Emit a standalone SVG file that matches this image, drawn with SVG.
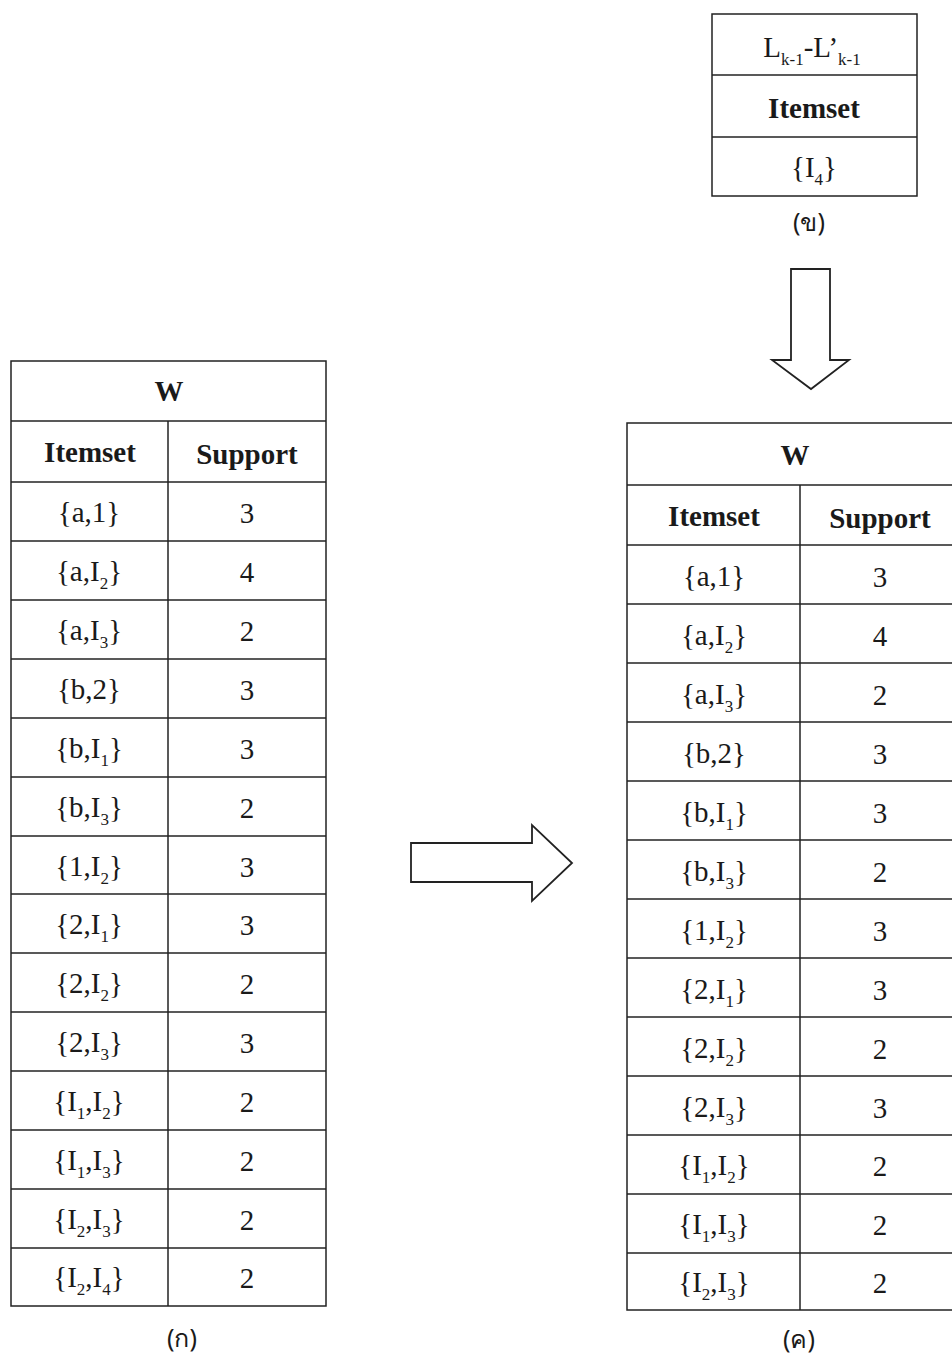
<svg xmlns="http://www.w3.org/2000/svg" width="952" height="1358" viewBox="0 0 952 1358">
<style>
.t{font-family:"Liberation Serif","Times New Roman",serif;font-size:29px;fill:#1a1a1a;text-anchor:middle}
.b{font-weight:bold}
.s{font-size:17px}
.th{font-family:"Noto Sans","DejaVu Sans",sans-serif;font-size:25px;fill:#1a1a1a;text-anchor:middle}
.ln{stroke:#222;stroke-width:1.5;fill:none}
.ar{stroke:#222;stroke-width:1.8;fill:#fff;stroke-linejoin:miter}
</style>
<rect width="952" height="1358" fill="#fff"/>

<g id="box-b">
<rect class="ln" x="712" y="14" width="205" height="182"/>
<line class="ln" x1="712" y1="75" x2="917" y2="75"/>
<line class="ln" x1="712" y1="137" x2="917" y2="137"/>
<text class="t" x="812" y="57">L<tspan class="s" dy="8">k-1</tspan><tspan dy="-8">-L’</tspan><tspan class="s" dy="8">k-1</tspan></text>
<text class="t b" x="814" y="118">Itemset</text>
<text class="t" x="814" y="177">{I<tspan class="s" dy="8">4</tspan><tspan dy="-8">}</tspan></text>
<text class="th" x="809" y="231">(ข)</text>
</g>

<g id="table-a">
<rect class="ln" x="11" y="361" width="315" height="945"/>
<line class="ln" x1="11" y1="421" x2="326" y2="421"/>
<line class="ln" x1="168" y1="421" x2="168" y2="1306"/>
<line class="ln" x1="11" y1="482" x2="326" y2="482"/>
<line class="ln" x1="11" y1="541" x2="326" y2="541"/>
<line class="ln" x1="11" y1="600" x2="326" y2="600"/>
<line class="ln" x1="11" y1="659" x2="326" y2="659"/>
<line class="ln" x1="11" y1="718" x2="326" y2="718"/>
<line class="ln" x1="11" y1="777" x2="326" y2="777"/>
<line class="ln" x1="11" y1="836" x2="326" y2="836"/>
<line class="ln" x1="11" y1="894" x2="326" y2="894"/>
<line class="ln" x1="11" y1="953" x2="326" y2="953"/>
<line class="ln" x1="11" y1="1012" x2="326" y2="1012"/>
<line class="ln" x1="11" y1="1071" x2="326" y2="1071"/>
<line class="ln" x1="11" y1="1130" x2="326" y2="1130"/>
<line class="ln" x1="11" y1="1189" x2="326" y2="1189"/>
<line class="ln" x1="11" y1="1248" x2="326" y2="1248"/>
<text class="t b" x="169" y="401">W</text>
<text class="t b" x="90" y="462">Itemset</text>
<text class="t b" x="247" y="464">Support</text>
<text class="t" x="89" y="522">{a,1}</text><text class="t" x="247" y="523">3</text>
<text class="t" x="89" y="581">{a,I<tspan class="s" dy="8">2</tspan><tspan dy="-8">}</tspan></text><text class="t" x="247" y="582">4</text>
<text class="t" x="89" y="640">{a,I<tspan class="s" dy="8">3</tspan><tspan dy="-8">}</tspan></text><text class="t" x="247" y="641">2</text>
<text class="t" x="89" y="699">{b,2}</text><text class="t" x="247" y="700">3</text>
<text class="t" x="89" y="758">{b,I<tspan class="s" dy="8">1</tspan><tspan dy="-8">}</tspan></text><text class="t" x="247" y="759">3</text>
<text class="t" x="89" y="817">{b,I<tspan class="s" dy="8">3</tspan><tspan dy="-8">}</tspan></text><text class="t" x="247" y="818">2</text>
<text class="t" x="89" y="876">{1,I<tspan class="s" dy="8">2</tspan><tspan dy="-8">}</tspan></text><text class="t" x="247" y="877">3</text>
<text class="t" x="89" y="934">{2,I<tspan class="s" dy="8">1</tspan><tspan dy="-8">}</tspan></text><text class="t" x="247" y="935">3</text>
<text class="t" x="89" y="993">{2,I<tspan class="s" dy="8">2</tspan><tspan dy="-8">}</tspan></text><text class="t" x="247" y="994">2</text>
<text class="t" x="89" y="1052">{2,I<tspan class="s" dy="8">3</tspan><tspan dy="-8">}</tspan></text><text class="t" x="247" y="1053">3</text>
<text class="t" x="89" y="1111">{I<tspan class="s" dy="8">1</tspan><tspan dy="-8">,I</tspan><tspan class="s" dy="8">2</tspan><tspan dy="-8">}</tspan></text><text class="t" x="247" y="1112">2</text>
<text class="t" x="89" y="1170">{I<tspan class="s" dy="8">1</tspan><tspan dy="-8">,I</tspan><tspan class="s" dy="8">3</tspan><tspan dy="-8">}</tspan></text><text class="t" x="247" y="1171">2</text>
<text class="t" x="89" y="1229">{I<tspan class="s" dy="8">2</tspan><tspan dy="-8">,I</tspan><tspan class="s" dy="8">3</tspan><tspan dy="-8">}</tspan></text><text class="t" x="247" y="1230">2</text>
<text class="t" x="89" y="1287">{I<tspan class="s" dy="8">2</tspan><tspan dy="-8">,I</tspan><tspan class="s" dy="8">4</tspan><tspan dy="-8">}</tspan></text><text class="t" x="247" y="1288">2</text>
<text class="th" x="182" y="1347">(ก)</text>
</g>

<g id="table-c">
<rect class="ln" x="627" y="423" width="340" height="887"/>
<line class="ln" x1="627" y1="485" x2="952" y2="485"/>
<line class="ln" x1="800" y1="485" x2="800" y2="1310"/>
<line class="ln" x1="627" y1="545" x2="952" y2="545"/>
<line class="ln" x1="627" y1="604" x2="952" y2="604"/>
<line class="ln" x1="627" y1="663" x2="952" y2="663"/>
<line class="ln" x1="627" y1="722" x2="952" y2="722"/>
<line class="ln" x1="627" y1="781" x2="952" y2="781"/>
<line class="ln" x1="627" y1="840" x2="952" y2="840"/>
<line class="ln" x1="627" y1="899" x2="952" y2="899"/>
<line class="ln" x1="627" y1="958" x2="952" y2="958"/>
<line class="ln" x1="627" y1="1017" x2="952" y2="1017"/>
<line class="ln" x1="627" y1="1076" x2="952" y2="1076"/>
<line class="ln" x1="627" y1="1135" x2="952" y2="1135"/>
<line class="ln" x1="627" y1="1194" x2="952" y2="1194"/>
<line class="ln" x1="627" y1="1253" x2="952" y2="1253"/>
<text class="t b" x="795" y="465">W</text>
<text class="t b" x="714" y="526">Itemset</text>
<text class="t b" x="880" y="528">Support</text>
<text class="t" x="714" y="586">{a,1}</text><text class="t" x="880" y="587">3</text>
<text class="t" x="714" y="645">{a,I<tspan class="s" dy="8">2</tspan><tspan dy="-8">}</tspan></text><text class="t" x="880" y="646">4</text>
<text class="t" x="714" y="704">{a,I<tspan class="s" dy="8">3</tspan><tspan dy="-8">}</tspan></text><text class="t" x="880" y="705">2</text>
<text class="t" x="714" y="763">{b,2}</text><text class="t" x="880" y="764">3</text>
<text class="t" x="714" y="822">{b,I<tspan class="s" dy="8">1</tspan><tspan dy="-8">}</tspan></text><text class="t" x="880" y="823">3</text>
<text class="t" x="714" y="881">{b,I<tspan class="s" dy="8">3</tspan><tspan dy="-8">}</tspan></text><text class="t" x="880" y="882">2</text>
<text class="t" x="714" y="940">{1,I<tspan class="s" dy="8">2</tspan><tspan dy="-8">}</tspan></text><text class="t" x="880" y="941">3</text>
<text class="t" x="714" y="999">{2,I<tspan class="s" dy="8">1</tspan><tspan dy="-8">}</tspan></text><text class="t" x="880" y="1000">3</text>
<text class="t" x="714" y="1058">{2,I<tspan class="s" dy="8">2</tspan><tspan dy="-8">}</tspan></text><text class="t" x="880" y="1059">2</text>
<text class="t" x="714" y="1117">{2,I<tspan class="s" dy="8">3</tspan><tspan dy="-8">}</tspan></text><text class="t" x="880" y="1118">3</text>
<text class="t" x="714" y="1175">{I<tspan class="s" dy="8">1</tspan><tspan dy="-8">,I</tspan><tspan class="s" dy="8">2</tspan><tspan dy="-8">}</tspan></text><text class="t" x="880" y="1176">2</text>
<text class="t" x="714" y="1234">{I<tspan class="s" dy="8">1</tspan><tspan dy="-8">,I</tspan><tspan class="s" dy="8">3</tspan><tspan dy="-8">}</tspan></text><text class="t" x="880" y="1235">2</text>
<text class="t" x="714" y="1292">{I<tspan class="s" dy="8">2</tspan><tspan dy="-8">,I</tspan><tspan class="s" dy="8">3</tspan><tspan dy="-8">}</tspan></text><text class="t" x="880" y="1293">2</text>
<text class="th" x="799" y="1348">(ค)</text>
</g>

<g id="connectors">
<polygon class="ar" points="411,843 532,843 532,825 572,863 532,901 532,882 411,882"/>
<polygon class="ar" points="791,269 830,269 830,360 849,360 811,389 772,360 791,360"/>
</g>
</svg>
